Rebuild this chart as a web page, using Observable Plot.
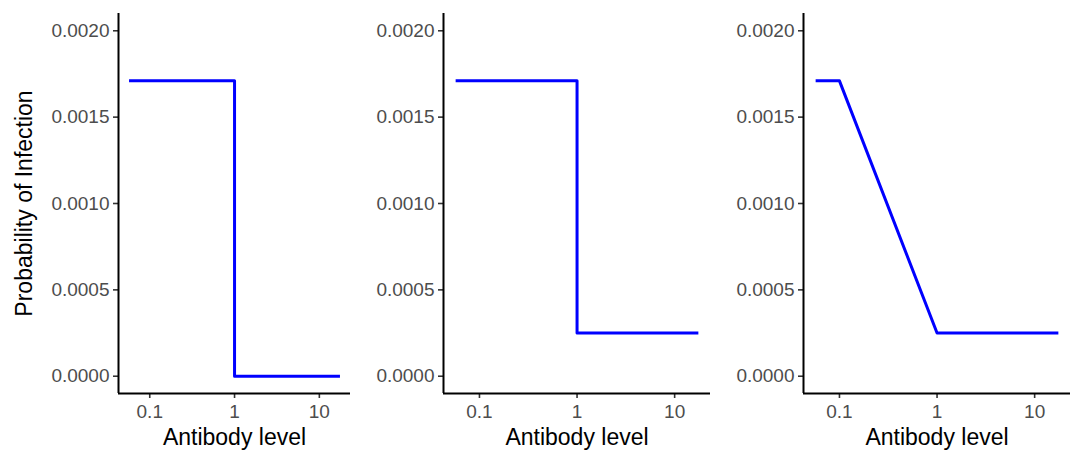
<!DOCTYPE html>
<html><head><meta charset="utf-8">
<script src="https://cdn.jsdelivr.net/npm/d3@7"></script>
<script src="https://cdn.jsdelivr.net/npm/@observablehq/plot@0.6"></script>
<style>
html,body{margin:0;padding:0;background:#fff;}
#row{display:flex;width:1073px;height:450px;}
#row svg{display:block;flex:none;}
</style></head><body><div id="row"></div>
<script>
// Data
const panel1Antibody = [0.057, 1, 1, 17.5];
const panel1Prob = [0.00171, 0.00171, 0, 0];
const panel2Antibody = [0.057, 1, 1, 17.5];
const panel2Prob = [0.00171, 0.00171, 0.00025, 0.00025];
const panel3Antibody = [0.057, 0.1, 1, 17.5];
const panel3Prob = [0.00171, 0.00171, 0.00025, 0.00025];
const xTicks = [0.1, 1, 10];
const xTickLabels = ["0.1", "1", "10"];
const yTicks = [0, 0.0005, 0.001, 0.0015, 0.002];
const yTickLabels = ["0.0000", "0.0005", "0.0010", "0.0015", "0.0020"];
const yLimits = [0, 0.002];
const xTitle = "Antibody level";
const yTitle = "Probability of Infection";

const panels = [
  {xs: panel1Antibody, ys: panel1Prob, width: 355, marginLeft: 118, marginRight: 5, showYTitle: true},
  {xs: panel2Antibody, ys: panel2Prob, width: 360, marginLeft: 88, marginRight: 5, showYTitle: false},
  {xs: panel3Antibody, ys: panel3Prob, width: 358, marginLeft: 88, marginRight: 3, showYTitle: false}
];

const FONT = "'Liberation Sans', Arial, Helvetica, sans-serif";

// ggplot-style 5% expansion
const allX = [...panel1Antibody, ...panel2Antibody, ...panel3Antibody];
const lx0 = Math.log10(d3.min(allX)), lx1 = Math.log10(d3.max(allX));
const px = 0.05 * (lx1 - lx0);
const xDomain = [Math.pow(10, lx0 - px), Math.pow(10, lx1 + px)];
const py = 0.05 * (yLimits[1] - yLimits[0]);
const yDomain = [yLimits[0] - py, yLimits[1] + py];

const row = document.getElementById("row");
for (const p of panels) {
  const data = p.xs.map((x, i) => ({antibody: x, prob: p.ys[i]}));
  const marks = [
    Plot.axisY({ticks: yTicks, tickFormat: d => yTickLabels[yTicks.indexOf(d)], tickSize: 5, tickPadding: 4,
      stroke: "#333333", strokeWidth: 1.6, fill: "#4d4d4d", fontSize: 19, label: null}),
    Plot.axisX({ticks: xTicks, tickFormat: d => xTickLabels[xTicks.indexOf(d)], tickSize: 5, tickPadding: 6,
      stroke: "#333333", strokeWidth: 1.6, fill: "#4d4d4d", fontSize: 19, label: null}),
    Plot.ruleX([xDomain[0]], {stroke: "black", strokeWidth: 2}),
    Plot.ruleY([yDomain[0]], {stroke: "black", strokeWidth: 2}),
    Plot.line(data, {x: "antibody", y: "prob", stroke: "#0000ff", strokeWidth: 3, strokeLinecap: "butt", strokeLinejoin: "round"}),
    Plot.text([xTitle], {text: d => d, frameAnchor: "bottom", dy: 51, fontSize: 23, fill: "black"})
  ];
  if (p.showYTitle) {
    marks.push(Plot.text([yTitle], {text: d => d, frameAnchor: "left", textAnchor: "middle", rotate: -90, dx: -94, fontSize: 23, fill: "black"}));
  }
  const chart = Plot.plot({
    width: p.width,
    height: 450,
    marginLeft: p.marginLeft,
    marginRight: p.marginRight,
    marginTop: 13,
    marginBottom: 57,
    style: {fontFamily: FONT, background: "white", overflow: "visible"},
    x: {type: "log", domain: xDomain},
    y: {domain: yDomain},
    marks
  });
  row.appendChild(chart);
}
</script>
</body></html>
